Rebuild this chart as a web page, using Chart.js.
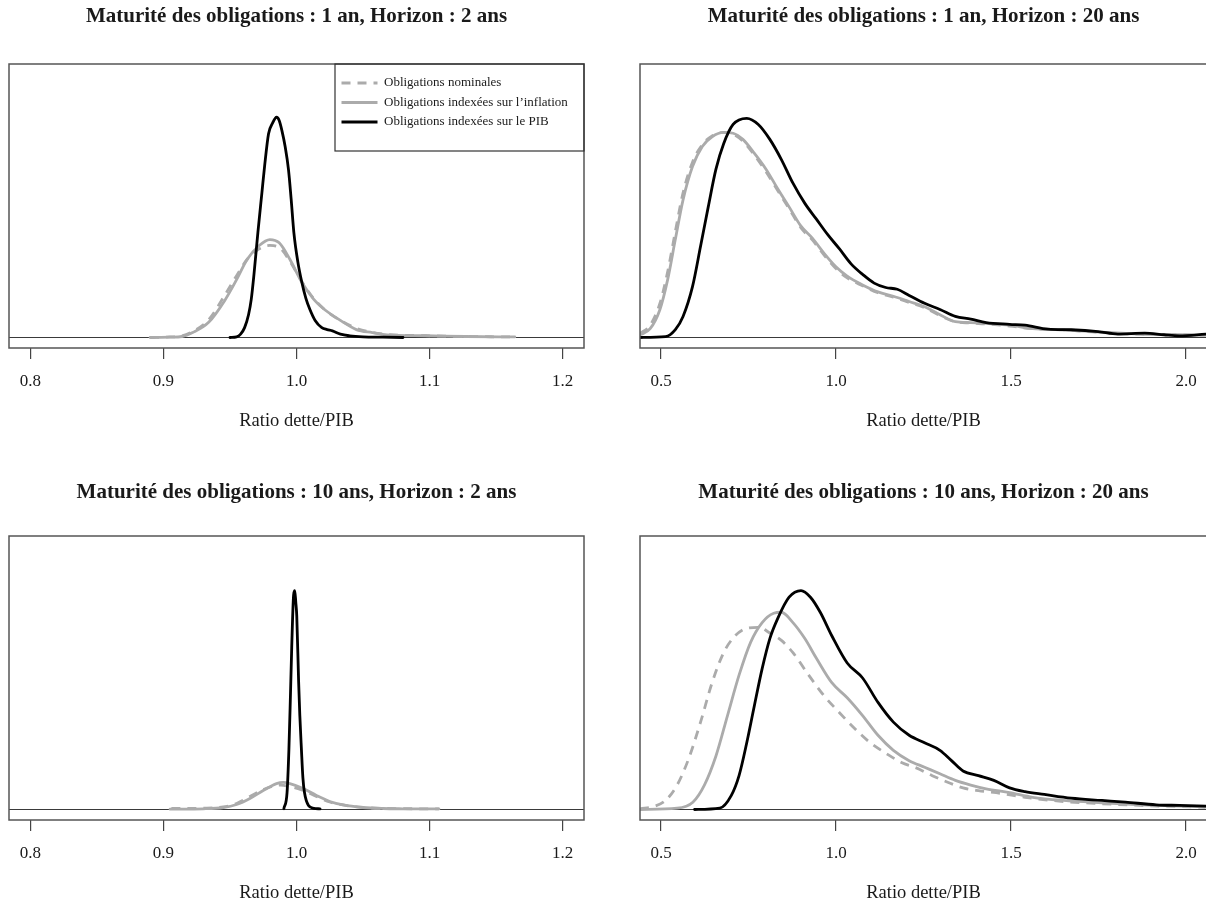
<!DOCTYPE html>
<html><head><meta charset="utf-8">
<script src="https://cdn.jsdelivr.net/npm/chart.js@4.4.0/dist/chart.umd.min.js"></script>
<style>
html,body{margin:0;padding:0;background:#fff;overflow:hidden;width:1206px;height:911px;position:relative;}
canvas{position:absolute;}
</style></head><body>
<canvas id="c1" width="593" height="440" style="left:0px;top:0px"></canvas>
<canvas id="c2" width="585" height="440" style="left:631px;top:0px"></canvas>
<canvas id="c3" width="593" height="440" style="left:0px;top:472px"></canvas>
<canvas id="c4" width="585" height="440" style="left:631px;top:472px"></canvas>
<script>
// ---------- texts ----------
const SERIES_LABELS = ["Obligations nominales", "Obligations indexées sur l’inflation", "Obligations indexées sur le PIB"];
const TITLES = [
  "Maturité des obligations : 1 an, Horizon : 2 ans",
  "Maturité des obligations : 1 an, Horizon : 20 ans",
  "Maturité des obligations : 10 ans, Horizon : 2 ans",
  "Maturité des obligations : 10 ans, Horizon : 20 ans"
];
const X_TITLE = "Ratio dette/PIB";

// ---------- tick values / labels ----------
const TICKS_SHORT = [0.8, 0.9, 1.0, 1.1, 1.2];
const TICK_LABELS_SHORT = ["0.8", "0.9", "1.0", "1.1", "1.2"];
const TICKS_LONG = [0.5, 1.0, 1.5, 2.0];
const TICK_LABELS_LONG = ["0.5", "1.0", "1.5", "2.0"];

// ---------- panel 1 : 1 an, horizon 2 ans ----------
const P1_GRAY_X = [0.890,0.905,0.914,0.922,0.934,0.946,0.955,0.963,0.972,0.980,0.987,0.995,1.004,1.013,1.022,1.033,1.045,1.057,1.068,1.097,1.127,1.164];
const P1_NOM_Y  = [0,0.08,0.23,0.9,2.7,6.4,9.4,11.9,13.5,14.0,13.7,11.6,8.5,5.9,4.1,2.6,1.4,0.76,0.46,0.27,0.15,0.08];
const P1_INF_Y  = [0,0.05,0.15,0.75,2.3,5.6,8.8,11.9,14.0,14.9,14.4,11.9,8.4,5.8,4.1,2.6,1.2,0.75,0.4,0.26,0.15,0.08];
const P1_PIB_X  = [0.950,0.955,0.958,0.961,0.964,0.966,0.968,0.971,0.974,0.976,0.979,0.982,0.985,0.987,0.989,0.9915,0.994,0.996,0.998,1.001,1.004,1.007,1.010,1.014,1.019,1.023,1.027,1.033,1.040,1.050,1.065,1.080];
const P1_PIB_Y  = [0,0.1,0.5,1.5,3.5,5.8,9.5,16,22,26,31,32.6,33.5,33.0,31.5,29,25.5,21,16,11.5,8.4,6,4.3,2.6,1.5,1.2,1.0,0.5,0.25,0.1,0.05,0];

// ---------- panel 2 : 1 an, horizon 20 ans ----------
const P2_GRAY_X = [0.44,0.469,0.497,0.519,0.541,0.563,0.590,0.618,0.646,0.679,0.706,0.734,0.767,0.800,0.833,0.866,0.900,0.933,0.966,0.999,1.032,1.076,1.120,1.164,1.209,1.253,1.297,1.341,1.385,1.429,1.496,1.562,1.650,1.760,1.871,1.981,2.056];
const P2_NOM_Y  = [0.046,0.14,0.39,0.75,1.21,1.65,2.00,2.20,2.30,2.34,2.32,2.24,2.08,1.89,1.68,1.47,1.25,1.11,0.94,0.79,0.68,0.59,0.51,0.46,0.40,0.34,0.25,0.18,0.165,0.154,0.13,0.10,0.086,0.057,0.038,0.031,0.026];
const P2_INF_Y  = [0.03,0.10,0.32,0.66,1.12,1.57,1.95,2.18,2.29,2.34,2.33,2.26,2.10,1.92,1.70,1.49,1.27,1.13,0.96,0.81,0.70,0.60,0.52,0.47,0.41,0.35,0.26,0.18,0.17,0.16,0.14,0.10,0.088,0.060,0.038,0.031,0.026];
const P2_PIB_X  = [0.44,0.513,0.541,0.563,0.590,0.613,0.635,0.657,0.679,0.706,0.745,0.778,0.811,0.844,0.877,0.911,0.944,0.977,1.010,1.043,1.076,1.109,1.142,1.175,1.209,1.253,1.297,1.341,1.385,1.429,1.496,1.540,1.606,1.672,1.749,1.805,1.882,1.937,1.981,2.056];
const P2_PIB_Y  = [0,0.01,0.09,0.24,0.58,1.04,1.49,1.92,2.21,2.43,2.50,2.43,2.26,2.03,1.76,1.53,1.35,1.17,1.01,0.84,0.72,0.62,0.57,0.55,0.48,0.39,0.32,0.24,0.21,0.17,0.15,0.14,0.095,0.088,0.068,0.038,0.049,0.031,0.019,0.038];

// ---------- panel 3 : 10 ans, horizon 2 ans ----------
const P3_NOM_X = [0.906,0.93,0.945,0.955,0.965,0.975,0.983,0.988,0.995,1.005,1.015,1.025,1.035,1.05,1.065,1.08,1.107];
const P3_NOM_Y = [0.53,0.69,1.33,3.19,6.92,10.6,12.5,13.0,12.2,10.1,6.92,3.99,2.39,1.06,0.59,0.43,0.32];
const P3_INF_X = [0.905,0.93,0.945,0.955,0.965,0.975,0.985,0.990,0.995,1.005,1.015,1.025,1.035,1.05,1.065,1.08,1.107];
const P3_INF_Y = [0.16,0.37,1.06,2.66,5.85,10.1,13.8,14.4,13.8,11.2,7.45,4.26,2.39,1.06,0.53,0.37,0.27];
const P3_PIB_X = [0.9905,0.9929,0.9943,0.9955,0.9964,0.9978,0.9987,0.9995,1.0002,1.0016,1.0025,1.0037,1.0048,1.006,1.009,1.013,1.0177];
const P3_PIB_Y = [0.4,9,32,62,86,114,116.5,110,103,68,50,32,17,9,2.1,0.6,0.35];

// ---------- panel 4 : 10 ans, horizon 20 ans ----------
const P4_NOM_X = [0.440,0.480,0.513,0.546,0.579,0.613,0.646,0.679,0.712,0.745,0.778,0.811,0.844,0.877,0.922,0.966,1.010,1.054,1.098,1.142,1.187,1.231,1.275,1.319,1.363,1.407,1.474,1.540,1.650,1.760,1.871,1.981,2.056];
const P4_NOM_Y = [0.007,0.032,0.096,0.26,0.54,0.93,1.35,1.67,1.85,1.93,1.94,1.88,1.80,1.67,1.43,1.21,1.03,0.86,0.71,0.60,0.50,0.44,0.36,0.29,0.23,0.20,0.17,0.13,0.085,0.061,0.043,0.032,0.024];
const P4_INF_X = [0.440,0.546,0.591,0.624,0.657,0.690,0.723,0.756,0.789,0.822,0.844,0.877,0.911,0.944,0.988,1.032,1.076,1.120,1.164,1.209,1.253,1.297,1.341,1.385,1.429,1.496,1.562,1.650,1.760,1.871,1.981,2.056];
const P4_INF_Y = [0,0.014,0.078,0.26,0.57,1.00,1.43,1.78,1.99,2.09,2.10,1.99,1.82,1.61,1.35,1.19,1.00,0.79,0.63,0.52,0.45,0.38,0.31,0.26,0.22,0.18,0.13,0.096,0.071,0.05,0.035,0.029];
const P4_PIB_X = [0.596,0.668,0.701,0.723,0.745,0.767,0.789,0.811,0.833,0.866,0.900,0.927,0.955,0.988,1.032,1.076,1.120,1.164,1.209,1.253,1.297,1.330,1.363,1.407,1.451,1.496,1.540,1.595,1.672,1.760,1.827,1.915,1.981,2.056];
const P4_PIB_Y = [0,0.014,0.15,0.36,0.71,1.11,1.50,1.82,2.03,2.26,2.33,2.26,2.10,1.85,1.56,1.40,1.14,0.93,0.79,0.71,0.63,0.52,0.41,0.36,0.31,0.23,0.19,0.16,0.12,0.096,0.078,0.05,0.043,0.035];

// ---------- style ----------
const SERIF = "'Liberation Serif', 'DejaVu Serif', serif";
const GRAY = '#ababab';
const BLACK = '#000000';
const TEXT = '#1a1a1a';
const FRAME = '#555555';

const pts = (xs, ys) => xs.map((x, i) => ({ x: x, y: ys[i] }));

const framePlugin = {
  id: 'frame',
  afterLayout(chart) {
    const lg = chart.legend;
    if (!lg || !lg.options.display) return;
    const a = chart.chartArea;
    lg.left = a.right - 249; lg.right = a.right; lg.width = 249;
    lg.top = a.top + 6; lg.bottom = a.top + 87; lg.height = 81;
  },
  beforeDatasetsDraw(chart) {
    const a = chart.chartArea, ctx = chart.ctx;
    const y0 = chart.scales.y.getPixelForValue(0);
    ctx.save();
    ctx.strokeStyle = '#3a3a3a'; ctx.lineWidth = 1.2;
    ctx.beginPath(); ctx.moveTo(a.left, y0); ctx.lineTo(a.right, y0); ctx.stroke();
    ctx.restore();
  },
  afterDraw(chart) {
    const a = chart.chartArea, ctx = chart.ctx;
    ctx.save();
    ctx.strokeStyle = FRAME; ctx.lineWidth = 1.5;
    ctx.strokeRect(a.left, a.top, a.right - a.left, a.bottom - a.top);
    const lg = chart.legend;
    if (lg && lg.options.display) {
      ctx.strokeStyle = '#333'; ctx.lineWidth = 1.2;
      ctx.strokeRect(lg.left, a.top, a.right - lg.left, 87);
    }
    ctx.restore();
  }
};

function ds(label, data, color, dash, width, order) {
  return {
    label: label, data: data, borderColor: color, backgroundColor: color,
    borderWidth: width, borderDash: dash, pointRadius: 0, fill: false,
    cubicInterpolationMode: 'monotone', order: order, clip: 0,
    borderCapStyle: dash.length ? 'butt' : 'round', borderJoinStyle: 'round'
  };
}

function makeChart(id, p) {
  const yMin = -0.04 * p.ylim, yMax = 1.04 * p.ylim;
  return new Chart(document.getElementById(id), {
    type: 'line',
    data: {
      datasets: [
        ds(SERIES_LABELS[0], pts(p.nomX, p.nomY), GRAY, [9, 7], 2.8, 2),
        ds(SERIES_LABELS[1], pts(p.infX, p.infY), GRAY, [], 2.8, 1),
        ds(SERIES_LABELS[2], pts(p.pibX, p.pibY), BLACK, [], 2.8, 0)
      ]
    },
    options: {
      responsive: false, animation: false, devicePixelRatio: 1,
      layout: { padding: { left: 9, right: 9, top: 0, bottom: 0 } },
      plugins: {
        tooltip: { enabled: false },
        title: {
          display: true, text: p.title, color: TEXT,
          font: { family: SERIF, size: 21, weight: 'bold' },
          padding: { top: p.titleTop, bottom: 38.8 - p.titleTop }
        },
        legend: p.legend ? {
          display: true, position: 'chartArea', align: 'start',
          labels: {
            usePointStyle: true, pointStyleWidth: 36, padding: 6.5, color: TEXT,
            font: { family: SERIF, size: 13 },
            generateLabels: (chart) => chart.data.datasets.map((d, i) => ({
              text: d.label, strokeStyle: d.borderColor, fillStyle: d.borderColor,
              lineWidth: d.borderWidth, lineDash: d.borderDash, pointStyle: 'line',
              lineCap: 'butt', datasetIndex: i, hidden: false, fontColor: TEXT
            }))
          }
        } : { display: false }
      },
      scales: {
        x: {
          type: 'linear', min: p.xmin, max: p.xmax,
          afterBuildTicks: (s) => { s.ticks = p.ticks.map(v => ({ value: v })); },
          afterFit: (s) => { s.height = 92; },
          ticks: {
            callback: (v, i) => p.tickLabels[i], color: TEXT, autoSkip: false, maxRotation: 0,
            font: { family: SERIF, size: 17 }, padding: 12
          },
          grid: { drawOnChartArea: false, drawTicks: true, tickLength: 11, color: '#444', lineWidth: 1.2 },
          border: { display: false },
          title: { display: true, text: X_TITLE, color: TEXT, font: { family: SERIF, size: 18.5 }, padding: { top: 0, bottom: 7.9 } }
        },
        y: { type: 'linear', display: false, min: yMin, max: yMax }
      }
    },
    plugins: [framePlugin]
  });
}

makeChart('c1', { title: TITLES[0], titleTop: 4.4, legend: true, xmin: 0.784, xmax: 1.216, ylim: 40, ticks: TICKS_SHORT, tickLabels: TICK_LABELS_SHORT,
  nomX: P1_GRAY_X, nomY: P1_NOM_Y, infX: P1_GRAY_X, infY: P1_INF_Y, pibX: P1_PIB_X, pibY: P1_PIB_Y });
makeChart('c2', { title: TITLES[1], titleTop: 4.4, legend: false, xmin: 0.44, xmax: 2.06, ylim: 3, ticks: TICKS_LONG, tickLabels: TICK_LABELS_LONG,
  nomX: P2_GRAY_X, nomY: P2_NOM_Y, infX: P2_GRAY_X, infY: P2_INF_Y, pibX: P2_PIB_X, pibY: P2_PIB_Y });
makeChart('c3', { title: TITLES[2], titleTop: 8.4, legend: false, xmin: 0.784, xmax: 1.216, ylim: 140, ticks: TICKS_SHORT, tickLabels: TICK_LABELS_SHORT,
  nomX: P3_NOM_X, nomY: P3_NOM_Y, infX: P3_INF_X, infY: P3_INF_Y, pibX: P3_PIB_X, pibY: P3_PIB_Y });
makeChart('c4', { title: TITLES[3], titleTop: 8.4, legend: false, xmin: 0.44, xmax: 2.06, ylim: 2.8, ticks: TICKS_LONG, tickLabels: TICK_LABELS_LONG,
  nomX: P4_NOM_X, nomY: P4_NOM_Y, infX: P4_INF_X, infY: P4_INF_Y, pibX: P4_PIB_X, pibY: P4_PIB_Y });
</script>
</body></html>
